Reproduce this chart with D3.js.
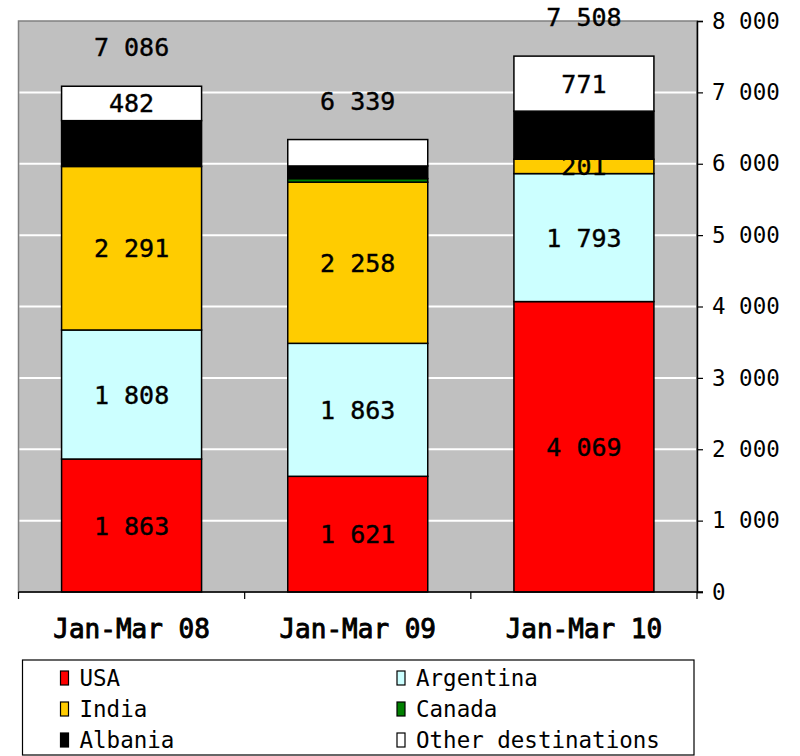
<!DOCTYPE html>
<html>
<head>
<meta charset="utf-8">
<script src="https://cdn.jsdelivr.net/npm/d3@7"></script>
<style>
  html, body { margin: 0; padding: 0; background: #fff; }
  svg { display: block; }
  text { font-family: "DejaVu Sans Mono", "Liberation Mono", monospace; fill: #000; }
</style>
</head>
<body>
<svg id="chart" width="800" height="756"></svg>
<script>
const categories = ["Jan-Mar 08", "Jan-Mar 09", "Jan-Mar 10"];
const seriesNames = ["USA", "Argentina", "India", "Canada", "Albania", "Other destinations"];
const seriesColors = ["#FF0000", "#CCFFFF", "#FFCC00", "#008000", "#000000", "#FFFFFF"];
const usa = [1863, 1621, 4069];
const argentina = [1808, 1863, 1793];
const india = [2291, 2258, 201];
const canada = [0, 50, 0];
const albania = [642, 177, 674];
const other = [482, 370, 771];
const totals = [7086, 6339, 7508];
const yTicks = [0, 1000, 2000, 3000, 4000, 5000, 6000, 7000, 8000];
// which segments carry a value label: [series index][category index]
const showLabel = [
  [true, true, true],
  [true, true, true],
  [true, true, true],
  [false, false, false],
  [false, false, false],
  [true, false, true]
];

(function () {
const seriesValues = [usa, argentina, india, canada, albania, other];
const table = categories.map((c, i) => {
  const row = { category: c };
  seriesNames.forEach((s, k) => row[s] = seriesValues[k][i]);
  return row;
});

const locale = d3.formatLocale({ decimal: ".", thousands: " ", grouping: [3], currency: ["", ""] });
const fmt = locale.format(",d");

const svg = d3.select("#chart");
const pLeft = 18.5, pRight = 697, pTop = 21, pBottom = 592;

const x = d3.scaleBand().domain(categories).range([pLeft, pRight]).paddingInner(0.381).paddingOuter(0.1905);
const y = d3.scaleLinear().domain([0, 8000]).range([pBottom, pTop]);

// plot background
svg.append("rect")
  .attr("x", pLeft).attr("y", pTop).attr("width", pRight - pLeft).attr("height", pBottom - pTop)
  .attr("fill", "#C0C0C0").attr("stroke", "#808080").attr("stroke-width", 1.5);

// gridlines
svg.append("g").selectAll("line").data(yTicks.filter(d => d > 0 && d < 8000)).join("line")
  .attr("x1", pLeft + 1).attr("x2", pRight - 1)
  .attr("y1", d => y(d)).attr("y2", d => y(d))
  .attr("stroke", "#FFFFFF").attr("stroke-width", 2);

// stacked bars
const stacked = d3.stack().keys(seriesNames)(table);
const gBars = svg.append("g");
stacked.forEach((layer, k) => {
  gBars.append("g").selectAll("rect").data(layer.filter(d => d[1] - d[0] > 0)).join("rect")
    .attr("x", d => x(d.data.category))
    .attr("width", x.bandwidth())
    .attr("y", d => y(d[1]))
    .attr("height", d => y(d[0]) - y(d[1]))
    .attr("fill", seriesColors[k])
    .attr("stroke", "#000").attr("stroke-width", 1.5);
});

// segment labels
stacked.forEach((layer, k) => {
  layer.forEach((d, i) => {
    if (!showLabel[k][i]) return;
    svg.append("text")
      .attr("x", x(d.data.category) + x.bandwidth() / 2)
      .attr("y", (y(d[0]) + y(d[1])) / 2)
      .attr("dy", "0.36em")
      .attr("text-anchor", "middle")
      .attr("font-size", 25)
      .attr("stroke", "#000").attr("stroke-width", 0.4)
      .text(fmt(d[1] - d[0]));
  });
});

// totals
svg.append("g").selectAll("text").data(categories).join("text")
  .attr("x", d => x(d) + x.bandwidth() / 2)
  .attr("y", (d, i) => y(totals[i]) - 30)
  .attr("text-anchor", "middle")
  .attr("font-size", 25)
  .attr("stroke", "#000").attr("stroke-width", 0.4)
  .text((d, i) => fmt(totals[i]));

// right y axis
const yAxis = d3.axisRight(y).tickValues(yTicks).tickSize(6).tickPadding(9).tickFormat(d => fmt(d));
const gy = svg.append("g").attr("transform", `translate(${pRight},0)`).call(yAxis);
gy.select(".domain").attr("stroke", "#000").attr("stroke-width", 1.5);
gy.selectAll(".tick line").attr("stroke", "#000").attr("stroke-width", 1.2);
gy.selectAll(".tick text").attr("font-size", 22.5).attr("font-family", "DejaVu Sans Mono, monospace").attr("fill", "#000");

// bottom axis
svg.append("line").attr("x1", pLeft).attr("x2", pRight + 6).attr("y1", pBottom).attr("y2", pBottom)
  .attr("stroke", "#000").attr("stroke-width", 1.5);
const catTicks = [pLeft, ...categories.slice(1).map(c => x(c) - x.step() * x.paddingInner() / 2), pRight];
svg.append("g").selectAll("line").data(catTicks).join("line")
  .attr("x1", d => d).attr("x2", d => d).attr("y1", pBottom).attr("y2", pBottom + 7)
  .attr("stroke", "#000").attr("stroke-width", 1.2);
svg.append("g").selectAll("text").data(categories).join("text")
  .attr("x", d => x(d) + x.bandwidth() / 2)
  .attr("y", 638)
  .attr("text-anchor", "middle")
  .attr("font-size", 26)
  .attr("stroke", "#000").attr("stroke-width", 0.9)
  .text(d => d);

// legend
svg.append("rect").attr("x", 22.5).attr("y", 660).attr("width", 671.5).attr("height", 95)
  .attr("fill", "#fff").attr("stroke", "#000").attr("stroke-width", 1.2);
const legendCols = [60.5, 397];
const legendRows = [678, 709, 740];
const gl = svg.append("g");
seriesNames.forEach((s, k) => {
  const cx = legendCols[k % 2], cy = legendRows[Math.floor(k / 2)];
  gl.append("rect").attr("x", cx).attr("y", cy - 7).attr("width", 8).attr("height", 14)
    .attr("fill", seriesColors[k]).attr("stroke", "#000").attr("stroke-width", 1.2);
  gl.append("text").attr("x", cx + 19).attr("y", cy).attr("dy", "0.36em")
    .attr("font-size", 22.5).text(s);
});
})();
</script>
</body>
</html>
